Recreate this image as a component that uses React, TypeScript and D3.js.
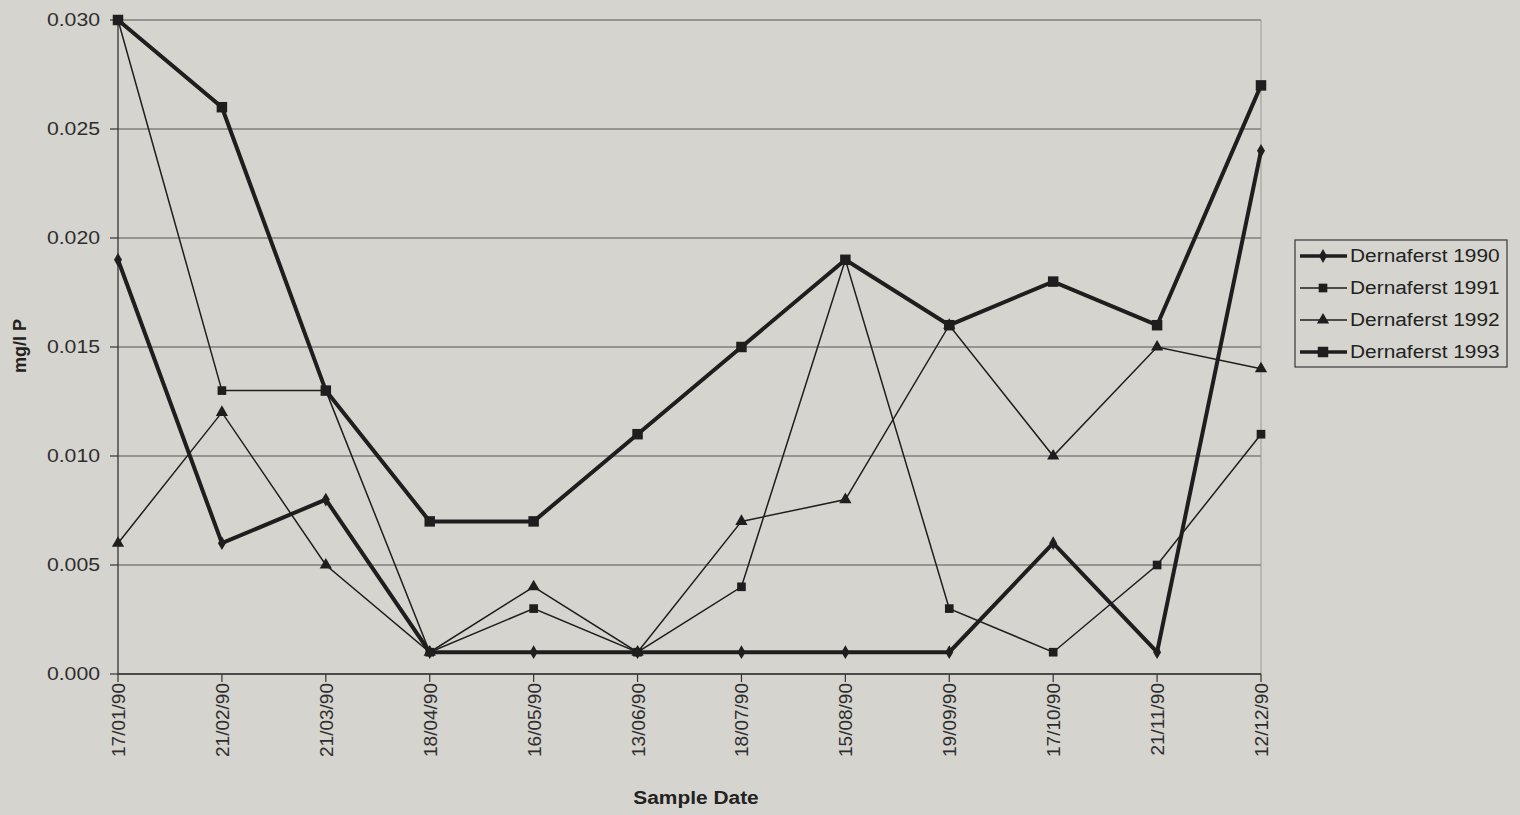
import React from "react";
import * as d3 from "d3";

const categories = ["17/01/90", "21/02/90", "21/03/90", "18/04/90", "16/05/90", "13/06/90", "18/07/90", "15/08/90", "19/09/90", "17/10/90", "21/11/90", "12/12/90"];
const s1990 = [0.019, 0.006, 0.008, 0.001, 0.001, 0.001, 0.001, 0.001, 0.001, 0.006, 0.001, 0.024];
const s1991 = [0.030, 0.013, 0.013, 0.001, 0.003, 0.001, 0.004, 0.019, 0.003, 0.001, 0.005, 0.011];
const s1992 = [0.006, 0.012, 0.005, 0.001, 0.004, 0.001, 0.007, 0.008, 0.016, 0.010, 0.015, 0.014];
const s1993 = [0.030, 0.026, 0.013, 0.007, 0.007, 0.011, 0.015, 0.019, 0.016, 0.018, 0.016, 0.027];
const yTicks = [0, 0.005, 0.01, 0.015, 0.02, 0.025, 0.03];
const seriesNames = ["Dernaferst 1990", "Dernaferst 1991", "Dernaferst 1992", "Dernaferst 1993"];

type Marker = "diamond" | "square" | "triangle" | "bigsquare";
const series: { name: string; values: number[]; width: number; marker: Marker }[] = [
  { name: seriesNames[0], values: s1990, width: 4, marker: "diamond" },
  { name: seriesNames[1], values: s1991, width: 1.5, marker: "square" },
  { name: seriesNames[2], values: s1992, width: 1.5, marker: "triangle" },
  { name: seriesNames[3], values: s1993, width: 4, marker: "bigsquare" },
];

const W = 1520, H = 815;
const left = 118, right = 1261, top = 20, bottom = 674;
const FONT = "'Liberation Sans', Arial, sans-serif";
const INK = "#1e1e1e";
const TXT = "#2e2e2e";

function markerPath(m: Marker): string {
  if (m === "diamond") return d3.symbol(d3.symbolDiamond, 55)()!;
  if (m === "triangle") return d3.symbol(d3.symbolTriangle, 65)()!;
  if (m === "square") return d3.symbol(d3.symbolSquare, 75)()!;
  return d3.symbol(d3.symbolSquare, 110)()!;
}

export default function App() {
  const x = d3.scalePoint<string>().domain(categories).range([left, right]);
  const y = d3.scaleLinear().domain([0, 0.03]).range([bottom, top]);
  const line = d3.line<number>().x((_, i) => x(categories[i])!).y((d) => y(d));

  return (
    <svg width={W} height={H} style={{ position: "absolute", left: 0, top: 0, display: "block" }} fontFamily={FONT}>
      <rect x={0} y={0} width={W} height={H} fill="#d6d4ce" />
      {/* gridlines */}
      {yTicks.map((t) => (
        <line key={t} x1={left} x2={right} y1={y(t)} y2={y(t)} stroke="#7f7f7c" strokeWidth={1.3} />
      ))}
      <line x1={right} x2={right} y1={top} y2={bottom} stroke="#9a9995" strokeWidth={1} />
      {/* axes */}
      <line x1={left} x2={left} y1={top} y2={bottom} stroke="#333" strokeWidth={1.3} />
      <line x1={left} x2={right} y1={bottom} y2={bottom} stroke="#333" strokeWidth={1.3} />
      {yTicks.map((t) => (
        <g key={"yt" + t}>
          <line x1={left - 8} x2={left} y1={y(t)} y2={y(t)} stroke="#333" strokeWidth={1.2} />
          <g transform={`translate(100,${y(t)}) scale(1.18,1)`}>
            <text x={0} y={0} dy="0.35em" textAnchor="end" fontSize={18} fill={TXT}>
              {d3.format(".3f")(t)}
            </text>
          </g>
        </g>
      ))}
      {categories.map((c) => (
        <g key={c}>
          <line x1={x(c)} x2={x(c)} y1={bottom} y2={bottom + 8} stroke="#333" strokeWidth={1.2} />
          <text transform={`translate(${x(c)! + 7},${bottom + 9}) rotate(-90)`} textAnchor="end" fontSize={19} fill={TXT}>
            {c}
          </text>
        </g>
      ))}
      <g transform="translate(696,804) scale(1.1,1)">
        <text x={0} y={0} textAnchor="middle" fontSize={19} fontWeight="bold" fill="#222">Sample Date</text>
      </g>
      <text transform="translate(26,346) rotate(-90)" textAnchor="middle" fontSize={18} fontWeight="bold" fill="#222">mg/l P</text>
      {/* series */}
      {series.map((s) => (
        <g key={s.name}>
          <path d={line(s.values)!} fill="none" stroke={INK} strokeWidth={s.width} strokeLinejoin="miter" />
          {s.values.map((v, i) => (
            <path key={i} d={markerPath(s.marker)} transform={`translate(${x(categories[i])},${y(v)})`} fill={INK} />
          ))}
        </g>
      ))}
      {/* legend */}
      <rect x={1295} y={240} width={212} height={127} fill="#d6d4ce" stroke="#444" strokeWidth={1.3} />
      {series.map((s, i) => {
        const ly = 256 + i * 32;
        return (
          <g key={"lg" + s.name}>
            <line x1={1300} x2={1347} y1={ly} y2={ly} stroke={INK} strokeWidth={s.width === 4 ? 3.5 : 1.5} />
            <path d={markerPath(s.marker)} transform={`translate(1323,${ly})`} fill={INK} />
            <g transform={`translate(1350,${ly}) scale(1.16,1)`}>
              <text x={0} y={0} dy="0.35em" fontSize={18} fill="#222">{s.name}</text>
            </g>
          </g>
        );
      })}
    </svg>
  );
}
